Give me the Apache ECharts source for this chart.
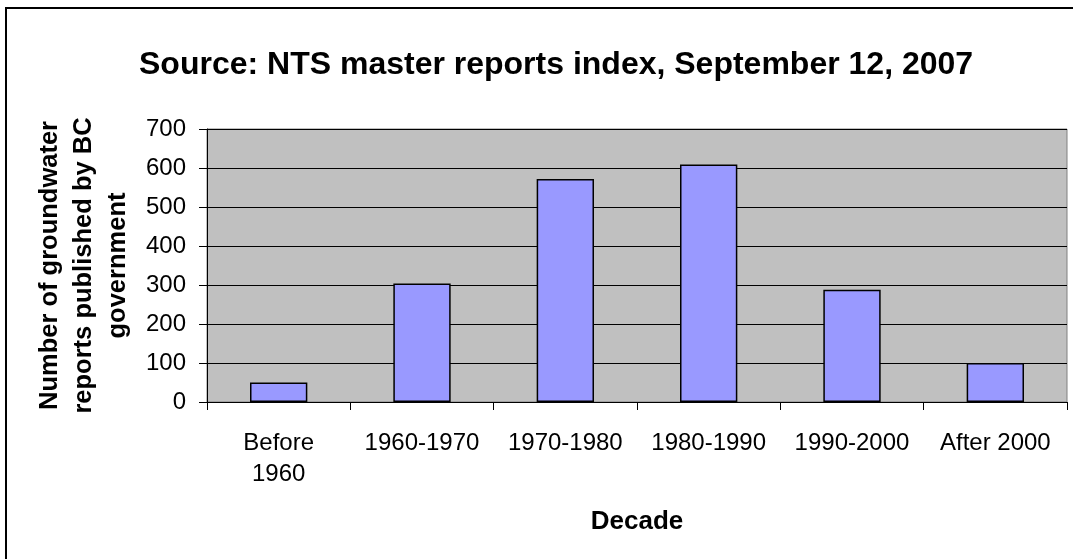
<!DOCTYPE html>
<html>
<head>
<meta charset="utf-8">
<script src="https://cdn.jsdelivr.net/npm/echarts@6/dist/echarts.min.js"></script>
<style>
html,body{margin:0;padding:0;background:#fff;}
#chart{width:1073px;height:559px;}
</style>
</head>
<body>
<div id="chart"></div>
<script>
const titleText = 'Source: NTS master reports index, September 12, 2007';
const categories = ['Before\n1960', '1960-1970', '1970-1980', '1980-1990', '1990-2000', 'After 2000'];
const reports = [50, 304, 572, 609, 288, 100];
const yTicks = { min: 0, max: 700, interval: 100 };
const xAxisTitle = 'Decade';
const yAxisTitle = 'Number of groundwater\nreports published by BC\ngovernment';

const font = '"Liberation Sans", Arial, sans-serif';
const chart = echarts.init(document.getElementById('chart'), null, { renderer: 'canvas' });
chart.setOption({
  backgroundColor: '#ffffff',
  animation: false,
  title: {
    text: titleText,
    left: 134,
    top: 44,
    textStyle: { fontFamily: font, fontWeight: 'bold', fontSize: 32, color: '#000' }
  },
  graphic: [{
    type: 'rect',
    shape: { x: 6, y: 8, width: 1200, height: 700 },
    style: { fill: 'none', stroke: '#000', lineWidth: 2 },
    silent: true
  }],
  grid: {
    left: 207, right: 6, top: 129, bottom: 157,
    show: true, backgroundColor: '#C0C0C0', borderColor: '#808080', borderWidth: 1,
    containLabel: false
  },
  xAxis: {
    type: 'category',
    data: categories,
    name: xAxisTitle,
    nameLocation: 'middle',
    nameGap: 107,
    nameTextStyle: { fontFamily: font, fontWeight: 'bold', fontSize: 26, color: '#000' },
    axisLine: { show: true, lineStyle: { color: '#000', width: 1 } },
    axisTick: { show: true, length: 8, lineStyle: { color: '#000' }, alignWithLabel: false },
    axisLabel: { fontFamily: font, fontSize: 24, color: '#000', margin: 26, lineHeight: 31, interval: 0 },
    splitLine: { show: false }
  },
  yAxis: {
    type: 'value',
    min: yTicks.min, max: yTicks.max, interval: yTicks.interval,
    name: yAxisTitle,
    nameLocation: 'middle',
    nameRotate: 90,
    nameGap: 71,
    nameTextStyle: { fontFamily: font, fontWeight: 'bold', fontSize: 25.5, color: '#000', lineHeight: 34, align: 'center' },
    axisLine: { show: true, lineStyle: { color: '#000', width: 1 } },
    axisTick: { show: true, length: 8, lineStyle: { color: '#000' } },
    axisLabel: { fontFamily: font, fontSize: 24, color: '#000', margin: 21 },
    splitLine: { show: true, lineStyle: { color: '#000', width: 1 } }
  },
  series: [{
    type: 'bar',
    data: reports,
    barWidth: '40%',
    itemStyle: { color: '#9999FF', borderColor: '#000', borderWidth: 1.5 }
  }]
});
</script>
</body>
</html>
